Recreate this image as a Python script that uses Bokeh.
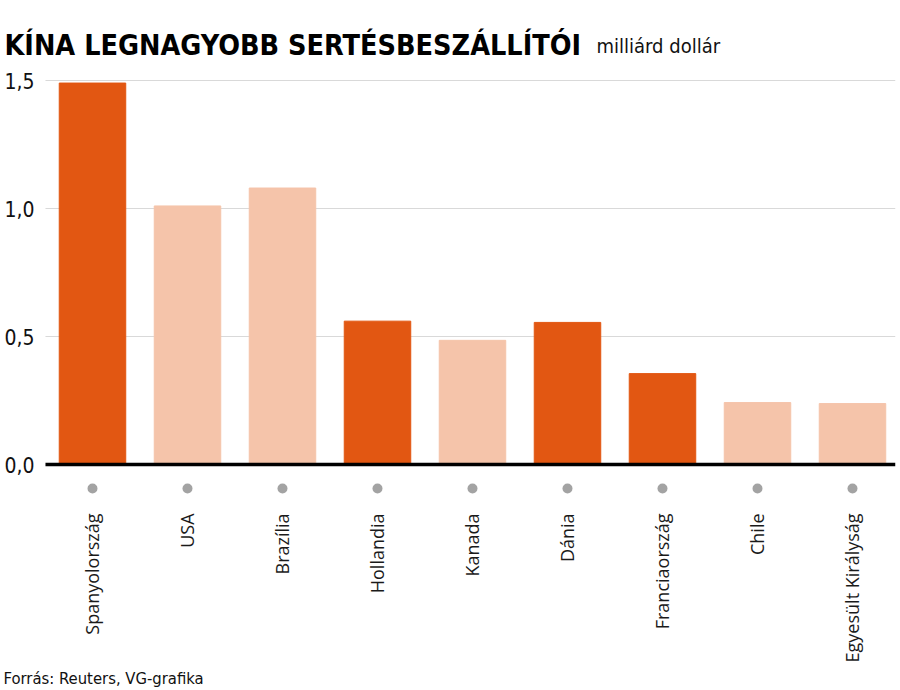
from bokeh.plotting import figure
from bokeh.models import (ColumnDataSource, FixedTicker, Label, Range1d,
                          CustomJSTickFormatter, LinearAxis)
from bokeh.embed import file_html
from bokeh.resources import INLINE

countries = ["Spanyolország", "USA", "Brazília", "Hollandia", "Kanada",
             "Dánia", "Franciaország", "Chile", "Egyesült Királyság"]
values = [1.49, 1.01, 1.08, 0.56, 0.485, 0.555, 0.355, 0.242, 0.238]
highlight = [True, False, False, True, False, True, True, False, False]
y_ticks = [0, 0.5, 1.0, 1.5]
grid_ticks = [0.5, 1.0, 1.5]

DARK = "#E25712"
LIGHT = "#F5C4AA"
NARROW = "DejaVu Sans Condensed"

pos = list(range(len(countries)))
colors = [DARK if h else LIGHT for h in highlight]
src = ColumnDataSource(dict(x=pos, top=values, color=colors,
                            dot=[-0.094] * len(countries)))

# frame covers the whole canvas; axes are drawn at fixed locations inside it
X0, X1 = -0.9684, 8.5053
Y0, Y1 = -0.8828, 1.8125
AXIS_X = -0.495      # left edge of the plotting area
RIGHT_X = 8.45       # right edge of the grid / baseline
AXIS_Y = -0.156      # where the category labels hang from

p = figure(x_range=Range1d(X0, X1), y_range=Range1d(Y0, Y1),
           width=900, height=690, output_backend="svg", toolbar_location=None,
           x_axis_type=None, y_axis_type=None,
           min_border_left=0, min_border_right=0, min_border_top=0,
           min_border_bottom=0)
p.outline_line_color = None
p.background_fill_color = "white"
p.border_fill_color = "white"
p.xgrid.visible = False
p.ygrid.visible = False

# grid lines
p.segment(x0=[AXIS_X] * len(grid_ticks), x1=[RIGHT_X] * len(grid_ticks),
          y0=grid_ticks, y1=grid_ticks, line_color="#D9D9D9", line_width=1)

p.vbar(x="x", top="top", width=0.7, color="color", source=src)
p.scatter(x="x", y="dot", size=10, color="#A3A3A3", line_color=None, source=src)

# baseline
p.segment(x0=[AXIS_X], x1=[RIGHT_X], y0=[0], y1=[0],
          line_color="black", line_width=3.5)

yax = LinearAxis(fixed_location=AXIS_X)
yax.ticker = FixedTicker(ticks=y_ticks)
yax.formatter = CustomJSTickFormatter(code="return tick.toFixed(1).replace('.', ',');")
yax.axis_line_color = None
yax.major_tick_line_color = None
yax.minor_tick_line_color = None
yax.major_tick_out = 0
yax.major_tick_in = 0
yax.major_label_standoff = 11
yax.major_label_text_font = NARROW
yax.major_label_text_font_size = "21px"
yax.major_label_text_color = "#111111"
p.add_layout(yax, "left")

xax = LinearAxis(fixed_location=AXIS_Y)
xax.ticker = FixedTicker(ticks=pos)
xax.formatter = CustomJSTickFormatter(args=dict(names=countries),
                                      code="return names[Math.round(tick)];")
xax.axis_line_color = None
xax.major_tick_line_color = None
xax.minor_tick_line_color = None
xax.major_tick_out = 0
xax.major_tick_in = 0
xax.major_label_orientation = 1.5707963267948966
xax.major_label_standoff = 9
xax.major_label_text_font = "Open Sans"
xax.major_label_text_font_size = "18px"
xax.major_label_text_color = "#1a1a1a"
p.add_layout(xax, "below")

p.add_layout(Label(x=4, y=645, x_units="screen", y_units="screen",
                   text="KÍNA LEGNAGYOBB SERTÉSBESZÁLLÍTÓI",
                   text_font=NARROW, text_font_style="bold",
                   text_font_size="28.5px", text_color="#000000",
                   text_baseline="alphabetic"))
p.add_layout(Label(x=596, y=645, x_units="screen", y_units="screen",
                   text="milliárd dollár",
                   text_font=NARROW, text_font_size="20px", text_color="#111111",
                   text_baseline="alphabetic"))
p.add_layout(Label(x=3, y=12, x_units="screen", y_units="screen",
                   text="Forrás: Reuters, VG-grafika",
                   text_font=NARROW, text_font_size="16.5px", text_color="#111111",
                   text_baseline="alphabetic"))

open("out.html", "w").write(file_html(p, INLINE))
